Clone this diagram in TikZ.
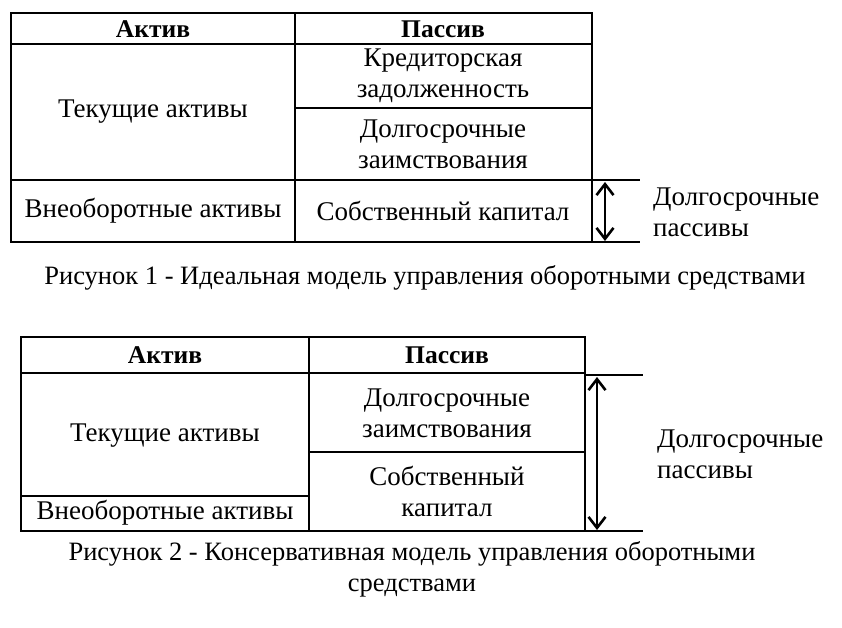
\documentclass[tikz,border=0pt]{standalone}
\usepackage{fontspec}
\setmainfont{Liberation Serif}
\usepackage{tikz}
\usetikzlibrary{arrows.meta, positioning}

\begin{document}
\begin{tikzpicture}[
            x=1pt, y=-1pt,
            % Define styles
            cell/.style={align=center, inner sep=0pt, font=\fontsize{27}{31}\selectfont},
            head/.style={inner sep=0pt, font=\bfseries\fontsize{25.5}{30}\selectfont},
            caption/.style={align=center, inner sep=0pt, font=\fontsize{26.5}{31}\selectfont},
            grid/.style={line width=1.6pt},
            arrow/.style={line width=2.6pt, {Straight Barb[length=11pt,width=17pt]}-{Straight Barb[length=11pt,width=17pt]}}
        ]
        \useasboundingbox (0,0) rectangle (842,628);

        % Figure 1: ideal model
        \draw[grid] (11,13) rectangle (592,242);
        \draw[grid] (295,13) -- (295,242);
        \draw[grid] (11,44) -- (592,44);
        \draw[grid] (295,108) -- (592,108);
        \draw[grid] (11,180) -- (640,180);
        \draw[grid] (592,242) -- (640,242);

        \node[head] (act1) at (153,29) {Актив};
        \node[head] (pas1) at (443,29) {Пассив};
        \node[cell] (cur1) at (153,112) {Текущие активы};
        \node[cell] (cred1) at (443,76) {Кредиторская\\задолженность};
        \node[cell] (loan1) at (443,144) {Долгосрочные\\заимствования};
        \node[cell] (fix1) at (153,211) {Внеоборотные активы};
        \node[cell] (own1) at (443,211) {Собственный капитал};
        \node[cell, align=left, anchor=west] (lt1) at (653,212) {Долгосрочные\\пассивы};

        \coordinate (top1) at (605,182);
        \coordinate (bot1) at (605,241);
        \draw[arrow] (top1) -- (bot1);

        \node[caption] (cap1) at (425,278) {Рисунок 1 - Идеальная модель управления оборотными средствами};

        % Figure 2: conservative model
        \draw[grid] (21,337) rectangle (585,531);
        \draw[grid] (309,337) -- (309,531);
        \draw[grid] (21,373) -- (585,373);
        \draw[grid] (309,452) -- (585,452);
        \draw[grid] (21,496) -- (309,496);
        \draw[grid] (585,375) -- (643,375);
        \draw[grid] (585,531) -- (643,531);

        \node[head] (act2) at (165,355) {Актив};
        \node[head] (pas2) at (447,355) {Пассив};
        \node[cell] (cur2) at (165,436) {Текущие активы};
        \node[cell] (fix2) at (165,513) {Внеоборотные активы};
        \node[cell] (loan2) at (447,413) {Долгосрочные\\заимствования};
        \node[cell] (own2) at (447,491) {Собственный\\капитал};
        \node[cell, align=left, anchor=west] (lt2) at (657,454) {Долгосрочные\\пассивы};

        \coordinate (top2) at (597,377);
        \coordinate (bot2) at (597,530);
        \draw[arrow] (top2) -- (bot2);

        \node[caption] (cap2) at (412,569) {Рисунок 2 - Консервативная модель управления оборотными\\средствами};

        \end{tikzpicture}
\end{document}
